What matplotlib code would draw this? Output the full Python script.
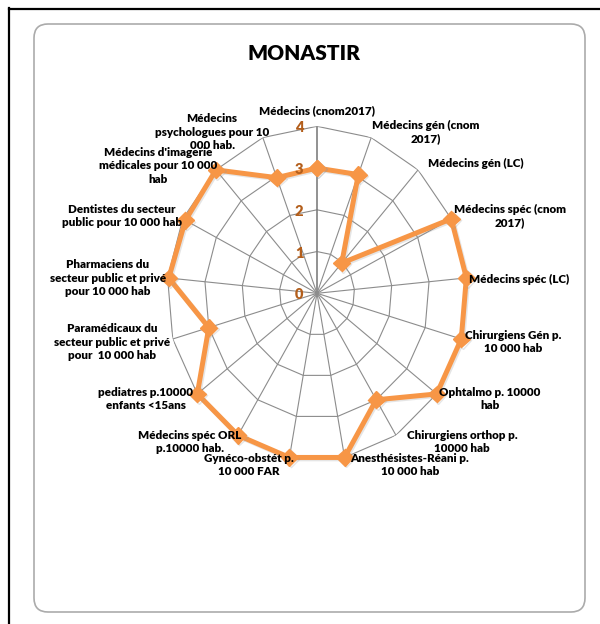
import numpy as np
import matplotlib
matplotlib.use("Agg")
import matplotlib.pyplot as plt
from matplotlib.patches import FancyBboxPatch
from matplotlib.lines import Line2D
from matplotlib.transforms import IdentityTransform
import matplotlib.patheffects as pe

# ---------------- data ----------------
title = "MONASTIR"
categories = [
    "Médecins (cnom2017)",
    "Médecins gén (cnom\n2017)",
    "Médecins gén (LC)",
    "Médecins spéc (cnom\n2017)",
    "Médecins spéc (LC)",
    "Chirurgiens Gén p.\n10 000 hab",
    "Ophtalmo p. 10000\nhab",
    "Chirurgiens orthop p.\n10000 hab",
    "Anesthésistes-Réani p.\n10 000 hab",
    "Gynéco-obstét p.\n10 000 FAR",
    "Médecins spéc ORL\np.10000 hab.",
    "pediatres p.10000\nenfants <15ans",
    "Paramédicaux du\nsecteur public et privé\npour  10 000 hab",
    "Pharmaciens du\nsecteur public et privé\npour 10 000 hab",
    "Dentistes du secteur\npublic pour 10 000 hab",
    "Médecins d'imagerie\nmédicales pour 10 000\nhab",
    "Médecins\npsychologues pour 10\n000 hab.",
]
values = [3.0, 3.05, 0.98, 4.0, 4.0, 4.0, 4.0, 3.0, 4.0, 4.0, 4.0, 4.0, 3.0, 3.97, 3.92, 4.0, 2.97]
tick_values = [0, 1, 2, 3, 4]
tick_labels = ["0", "1", "2", "3", "4"]

# label centres in pixels (x from left, y from top)
label_pos = [
    (317, 111), (426, 132), (476, 163), (510, 216), (519, 279),
    (513, 342), (490, 399), (462, 442), (410, 465), (249, 465),
    (190, 442), (146, 399), (112, 342), (108, 278), (122, 216),
    (158, 166), (212, 132),
]

W, H = 600, 624
FONT = ["Lato", "DejaVu Sans"]
plt.rcParams["font.family"] = FONT

fig = plt.figure(figsize=(W / 100, H / 100), dpi=100)
fig.patch.set_facecolor("white")

# outer black border (top & left) and rounded chart area
fig.add_artist(Line2D([8.5, 8.5], [0, H - 8], transform=IdentityTransform(), color="black", lw=1.6))
fig.add_artist(Line2D([8.5, W], [H - 8.5, H - 8.5], transform=IdentityTransform(), color="black", lw=1.6))
box = FancyBboxPatch((34, H - 612), 551, 588, boxstyle="round,pad=0,rounding_size=14",
                     transform=IdentityTransform(), facecolor="none", edgecolor="#ABABAB", lw=1.2)
fig.add_artist(box)

fig.text(304 / W, 1 - 54 / H, title, ha="center", va="center", fontsize=15, fontweight="heavy", color="black")

# radar axes (elliptical like the reference)
cx, cy, rx, ry = 317, 293.3, 150, 167
ax = fig.add_axes([(cx - rx) / W, 1 - (cy + ry) / H, 2 * rx / W, 2 * ry / H], projection="polar")
ax.set_aspect("auto")
ax.set_theta_zero_location("N")
ax.set_theta_direction(-1)
ax.set_ylim(0, max(tick_values))
ax.grid(False)
ax.set_xticks([])
ax.set_yticks([])
ax.spines["polar"].set_visible(False)
ax.patch.set_alpha(0)

n = len(categories)
angles = np.arange(n) * 2 * np.pi / n
closed = np.append(angles, angles[0])

for t in tick_values[1:]:
    ax.plot(closed, [t] * (n + 1), color="#8C8C8C", lw=0.8, zorder=1)
for i, a in enumerate(angles):
    ax.plot([a, a], [0, max(tick_values)], color="#7F7F7F" if i == 0 else "#8C8C8C",
            lw=1.2 if i == 0 else 0.8, zorder=1)

vals = np.append(values, values[0])
ax.plot(closed, vals, color="#F79646", lw=3.6, marker="D", ms=8.5, mec="#F79646", mfc="#F79646",
        zorder=3, clip_on=False,
        path_effects=[pe.SimpleLineShadow(offset=(1.0, -1.0), shadow_color="#9A9A9A", alpha=0.25), pe.Normal()])

for v, s in zip(tick_values, tick_labels):
    ax.annotate(s, xy=(0, v), xytext=(-18, -1.5), textcoords="offset pixels", ha="center", va="center",
                fontsize=10.5, fontweight="heavy", color="#B35E1B", annotation_clip=False, zorder=4)

for lab, (x, y) in zip(categories, label_pos):
    fig.text(x / W, 1 - y / H, lab, ha="center", va="center", multialignment="center",
             fontsize=8.4, fontweight="heavy", color="black", linespacing=1.3, zorder=5)

fig.savefig("out.png", dpi=100, facecolor="white")
